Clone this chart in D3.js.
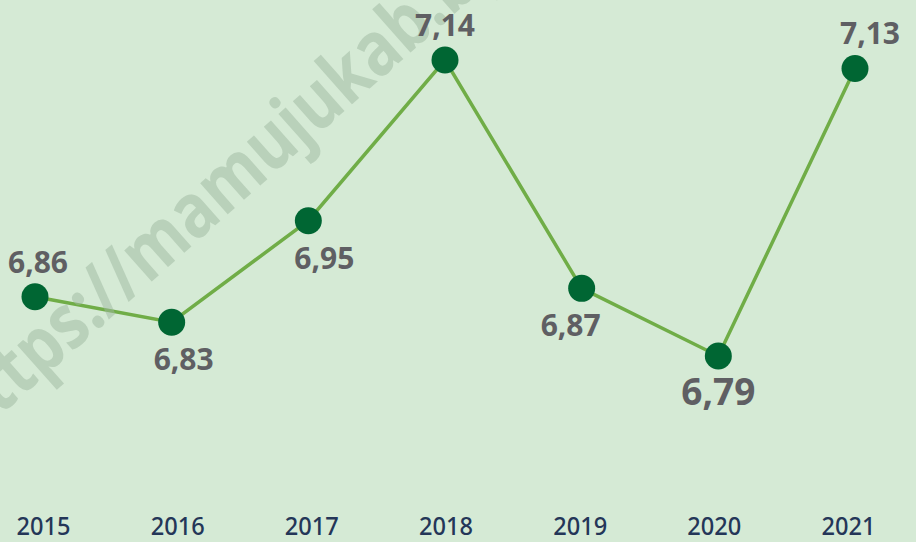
<!DOCTYPE html>
<html>
<head>
<meta charset="utf-8">
<script src="https://cdn.jsdelivr.net/npm/d3@7"></script>
<style>
  html, body { margin: 0; padding: 0; background: #d5ead5; }
  svg { display: block; }
</style>
</head>
<body>
<div id="chart"></div>
<script>
// data
var years = ["2015", "2016", "2017", "2018", "2019", "2020", "2021"];
var values = [6.86, 6.83, 6.95, 7.14, 6.87, 6.79, 7.13];
// where each value label sits relative to its dot
var labelSide = ["above", "below", "below", "above", "below", "below", "above"];
var labelShift = [3, 12, 16, 0, -11, 0, 15];

var w = 916,
    h = 542;

var svg = d3.select("#chart").append("svg")
    .attr("width", w)
    .attr("height", h);

svg.append("rect")
    .attr("width", w)
    .attr("height", h)
    .attr("fill", "#d5ead5");

var x = d3.scalePoint()
    .domain(years)
    .range([35, 855]);

var xLabels = d3.scalePoint()
    .domain(years)
    .range([43, 848]);

var y = d3.scaleLinear()
    .domain([6.79, 7.14])
    .range([356, 60]);

var data = years.map(function (d, i) {
  return { year: d, value: values[i], side: labelSide[i], shift: labelShift[i] };
});

// year labels along the bottom
var axis = d3.axisBottom(xLabels).tickSize(0).tickPadding(0);
var gx = svg.append("g")
    .attr("transform", "translate(0,516)")
    .call(axis);
gx.select(".domain").remove();
gx.selectAll("text")
    .attr("font-family", "'Noto Sans', 'Open Sans', sans-serif")
    .attr("font-size", 26)
    .attr("font-weight", 500)
    .attr("fill", "#243658")
    .attr("dy", "0.72em")
    .attr("textLength", 54)
    .attr("lengthAdjust", "spacingAndGlyphs");

var line = d3.line()
    .x(function (d) { return x(d.year); })
    .y(function (d) { return y(d.value); });

svg.append("path")
    .datum(data)
    .attr("d", line)
    .attr("fill", "none")
    .attr("stroke", "#70ad47")
    .attr("stroke-width", 3.5);

// watermark, see-through over the line
svg.append("text")
    .attr("transform", "translate(-32,444) rotate(-41.5) scale(0.84,1)")
    .attr("font-family", "'Open Sans', sans-serif")
    .attr("font-weight", 700)
    .attr("font-size", 76)
    .attr("fill", "#9db79f")
    .attr("fill-opacity", 0.5)
    .text("https://mamujukab.bps.go.id");

svg.selectAll(".dot")
    .data(data)
    .enter().append("circle")
    .attr("class", "dot")
    .attr("cx", function (d) { return x(d.year); })
    .attr("cy", function (d) { return y(d.value); })
    .attr("r", 13.5)
    .attr("fill", "#006633");

var fmt = function (v) { return d3.format(".2f")(v).replace(".", ","); };

svg.selectAll(".lbl")
    .data(data)
    .enter().append("text")
    .attr("class", "lbl")
    .attr("x", function (d) { return x(d.year) + d.shift; })
    .attr("y", function (d) {
      var big = d.value === d3.min(values);
      return d.side === "above" ? y(d.value) - 24 : y(d.value) + (big ? 49 : 48);
    })
    .attr("text-anchor", "middle")
    .attr("font-family", "'Open Sans', sans-serif")
    .attr("font-weight", 700)
    .attr("font-size", function (d) { return d.value === d3.min(values) ? 37 : 30; })
    .attr("fill", "#5f5f63")
    .text(function (d) { return fmt(d.value); });
</script>
</body>
</html>
